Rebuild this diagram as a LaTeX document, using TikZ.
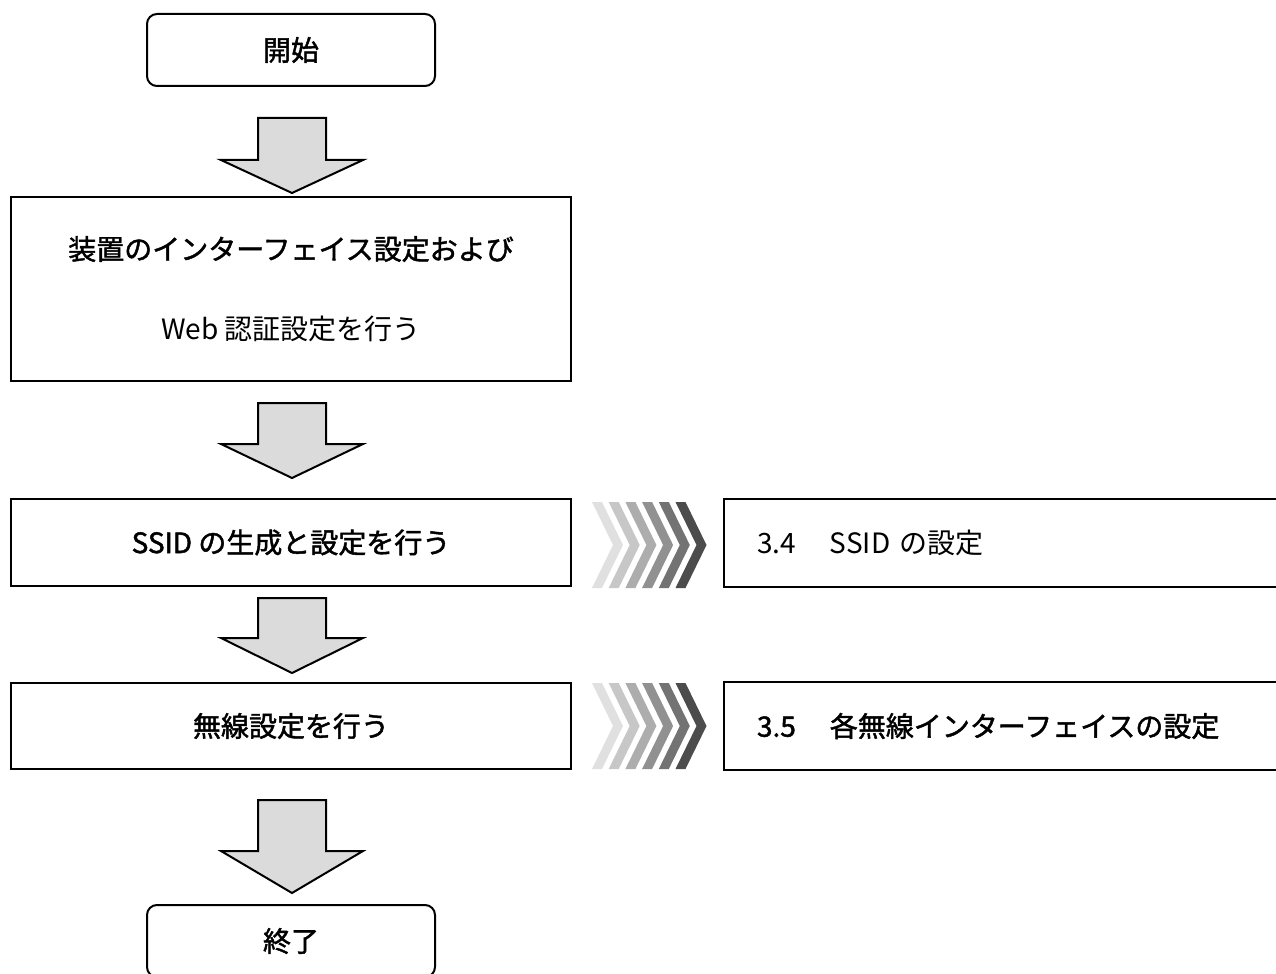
\documentclass[tikz,border=0pt]{standalone}
\usepackage{fontspec}
\setmainfont{Noto Sans CJK JP}
\newfontfamily\heavyfont{Noto Sans CJK JP}[FakeBold=1.6]
\usetikzlibrary{positioning}

\begin{document}
\begin{tikzpicture}[x=0.5pt, y=-0.5pt, font=\fontsize{14}{17}\selectfont,
    box/.style={rectangle, draw=black, line width=1pt, minimum width=280pt,
                align=center, inner sep=0pt},
    terminal/.style={box, rounded corners=5pt, minimum width=144pt, minimum height=36pt},
    refbox/.style={box, minimum width=289pt, minimum height=44pt, text width=256pt, align=left},
    blockarrow/.style={draw=black, line width=1pt, fill=black!14, line join=miter}]
\clip (0,0) rectangle (1276,974);
% flow boxes
\node[terminal] (start) at (291,50) {\heavyfont 開始};
\node[box, minimum height=92pt, font=\fontsize{14}{40}\selectfont] (setup) at (291,289)
    {{\heavyfont 装置のインターフェイス設定および}\\Web 認証設定を行う};
\node[box, minimum height=43.5pt] (ssid) at (291,542.5) {\heavyfont SSID の生成と設定を行う};
\node[box, minimum height=43pt] (radio) at (291,726) {\heavyfont 無線設定を行う};
\node[terminal] (finish) at (291,941) {\heavyfont 終了};
% reference boxes, cut at the right edge
\node[refbox, right=75.5pt of ssid] (refssid) {3.4\hspace{17pt}SSID の設定};
\node[refbox, right=75.5pt of radio] (refradio) {\heavyfont 3.5\hspace{17pt}各無線インターフェイスの設定};
% block arrows
\foreach \ya/\yb/\yc in {118/160/193, 403/444/478, 598/638/673, 800/851/893}
    \draw[blockarrow] (258,\ya) -- (326,\ya) -- (326,\yb) -- (363,\yb) -- (292,\yc)
        -- (221,\yb) -- (258,\yb) -- cycle;
% chevrons
\foreach \ymid in {545,726} {
    \foreach \i/\tone in {0/12, 1/22, 2/32, 3/43, 4/55, 5/70} {
        \pgfmathsetmacro{\xl}{592+16.7*\i}
        \fill[black!\tone] (\xl,\ymid-43) -- ++(10,0) -- ++(21,43) -- ++(-21,43)
            -- ++(-10,0) -- ++(21,-43) -- cycle;
    }
}
\end{tikzpicture}
\end{document}
